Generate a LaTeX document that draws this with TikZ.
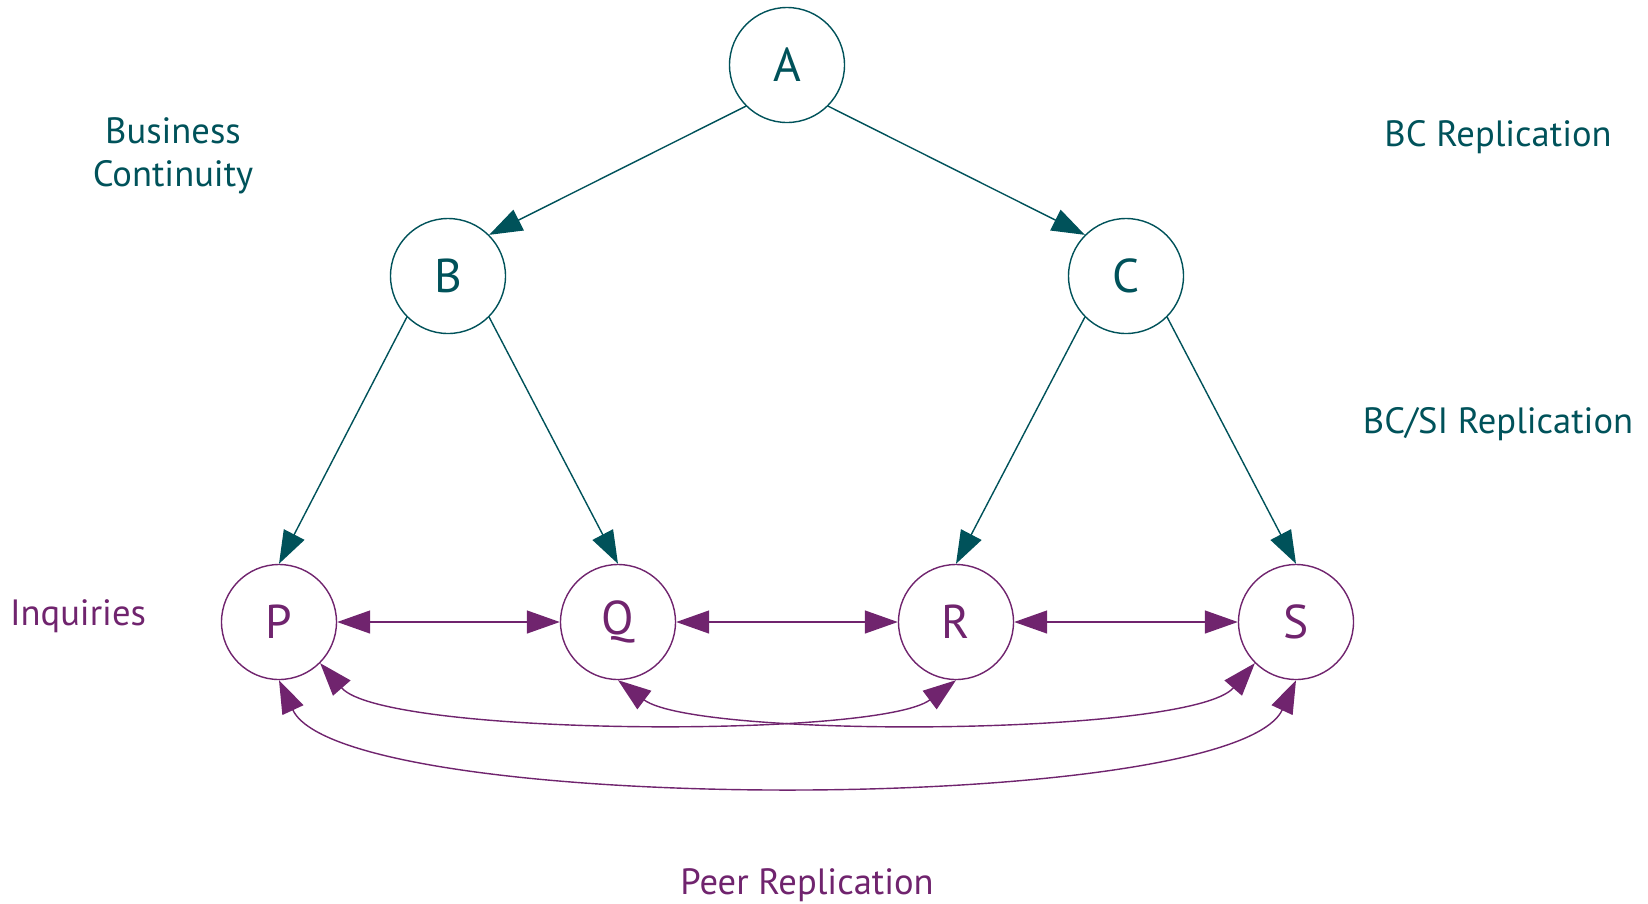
\documentclass[tikz,border=0pt]{standalone}
\usepackage{fontspec}
\setmainfont{PT Sans}
\usepackage{xcolor}
\usetikzlibrary{
arrows.meta,
positioning
}
\definecolor{bcteal}{RGB}{0,82,90}
\definecolor{peerpurple}{RGB}{112,36,110}

\begin{document}
\begin{tikzpicture}
[auto,
site_bc/.style ={ circle, draw=bcteal, text=bcteal, fill=white, minimum size=1.15cm, inner sep=0, font=\fontsize{13.5}{15}\selectfont},
site_peer/.style ={ site_bc, draw=peerpurple, text=peerpurple},
label_bc/.style ={ rectangle, draw=none, text=bcteal, align=center, font=\fontsize{10.4}{12.2}\selectfont},
label_peer/.style ={ label_bc, text=peerpurple},
line_bc/.style ={draw=bcteal, -{Triangle[length=3.3mm,width=2.3mm]}},
line_peer/.style ={draw=peerpurple, {Triangle[length=3.3mm,width=2.3mm]}-{Triangle[length=3.3mm,width=2.3mm]}}
]

\useasboundingbox (0,0) rectangle (16.48,-9.03);

%%Knoten%%%
\node [site_bc] (A) at (7.87,-0.65) {A};
\node [site_bc] (B) at (4.48,-2.76) {B};
\node [site_bc] (C) at (11.26,-2.76) {C};
\node [site_peer] (P) at (2.79,-6.22) {P};
\node [site_peer] (Q) at (6.18,-6.22) {Q};
\node [site_peer] (R) at (9.56,-6.22) {R};
\node [site_peer] (S) at (12.96,-6.22) {S};

%%Beschriftung%%%
\node [label_bc] (continuity) at (1.73,-1.56) {Business\\Continuity};
\node [label_bc] (bcrep) at (14.98,-1.37) {BC Replication};
\node [label_bc] (bcsirep) at (14.98,-4.24) {BC/SI Replication};
\node [label_peer] (inquiries) at (0.78,-6.16) {Inquiries};
\node [label_peer] (peerrep) at (8.07,-8.85) {Peer Replication};

%%Pfeile%%%
\draw [line_bc](A.south west) -- (B.north east);
\draw [line_bc](A.south east) -- (C.north west);
\draw [line_bc](B.south west) -- (P.north);
\draw [line_bc](B.south east) -- (Q.north);
\draw [line_bc](C.south west) -- (R.north);
\draw [line_bc](C.south east) -- (S.north);

\draw [line_peer](P.east) -- (Q.west);
\draw [line_peer](Q.east) -- (R.west);
\draw [line_peer](R.east) -- (S.west);
\draw [line_peer](P.south east) to[out=-49, in=-143, looseness=0.39] (R.south);
\draw [line_peer](Q.south) to[out=-37, in=-131, looseness=0.39] (S.south west);
\draw [line_peer](P.south) to[out=-65, in=-115, looseness=0.38] (S.south);

\end{tikzpicture}
\end{document}
